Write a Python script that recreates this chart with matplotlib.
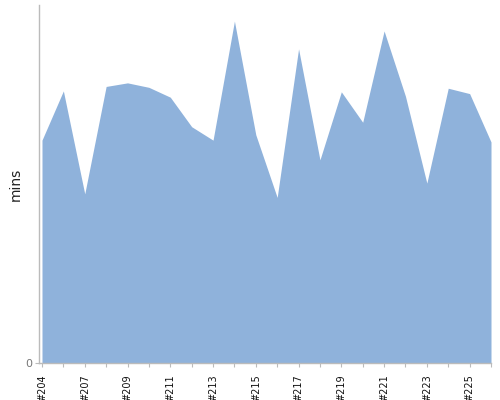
import matplotlib
matplotlib.use('Agg')
import matplotlib.pyplot as plt

# build numbers (one build between #204 and #207 is skipped in the data)
builds = ['#204', '#206', '#207', '#208', '#209', '#210', '#211', '#212',
          '#213', '#214', '#215', '#216', '#217', '#218', '#219', '#220',
          '#221', '#222', '#223', '#224', '#225', '#226']
# build duration in minutes
mins = [24.9, 30.4, 18.9, 30.9, 31.3, 30.8, 29.7, 26.4, 24.9, 38.2, 25.5,
        18.5, 35.1, 22.7, 30.3, 26.9, 37.1, 29.8, 20.1, 30.7, 30.1, 24.7]

fig = plt.figure(figsize=(5, 4), dpi=100)
ax = fig.add_axes([0.078, 0.0925, 0.904, 0.895])

x = list(range(len(builds)))
ax.fill_between(x, mins, 0, color='#8FB2DB', linewidth=0)

ax.set_xlim(-0.14, len(builds) - 1)
ax.set_ylim(0, 40)

# every build gets a tick, only every other one a label
labels = []
for i, b in enumerate(builds):
    if i % 2 == 0:
        labels.append(b)
    else:
        labels.append('')
ax.set_xticks(x)
ax.set_xticklabels(labels, rotation=90, fontsize=7, color='#111111')
ax.tick_params(axis='x', length=3, color='#bbbbbb', pad=5)

ax.set_yticks([0])
ax.set_yticklabels(['0'], fontsize=8, color='#777777')
ax.tick_params(axis='y', length=3, color='#bbbbbb', pad=2)

ax.set_ylabel('mins', fontsize=10, color='#222222', labelpad=2)

for side in ['top', 'right']:
    ax.spines[side].set_visible(False)
for side in ['left', 'bottom']:
    ax.spines[side].set_color('#bbbbbb')
    ax.spines[side].set_linewidth(1)

fig.savefig('out.png', dpi=100)
